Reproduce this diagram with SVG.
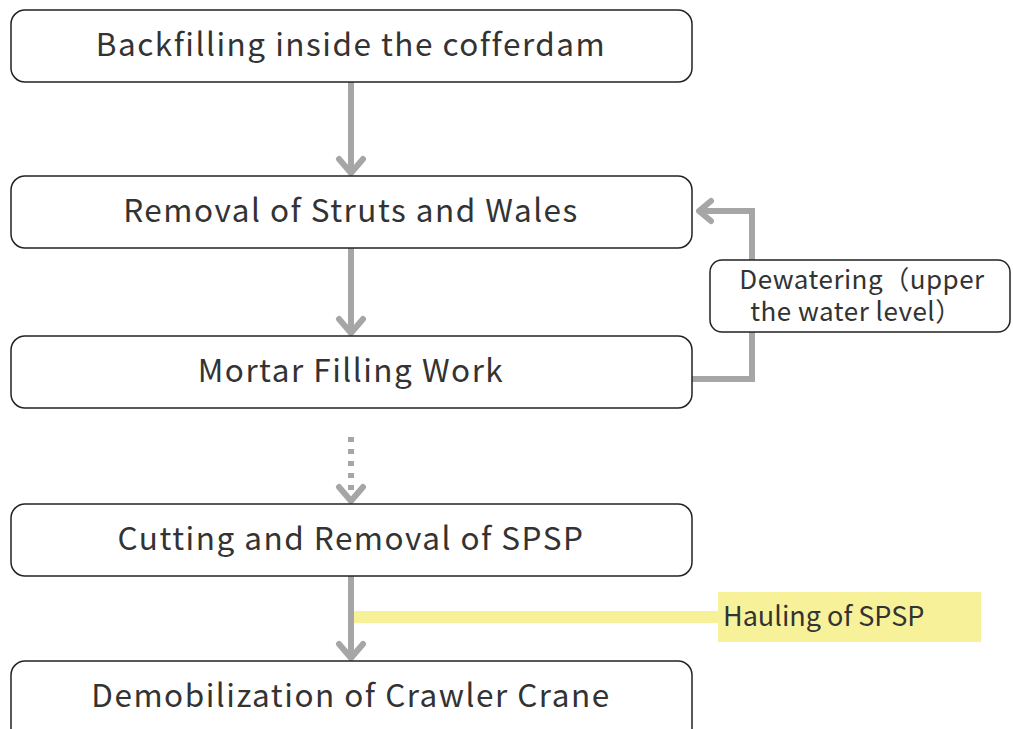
<svg xmlns="http://www.w3.org/2000/svg" width="1013" height="729" viewBox="0 0 1013 729">
<style>
.box{fill:#fff;stroke:#222;stroke-width:1.5}
.t{font-family:"Noto Sans CJK JP","Noto Sans",sans-serif;fill:#333;text-anchor:middle}
.big{font-size:31.5px;letter-spacing:1.5px}
.mid{font-size:26px;letter-spacing:0.5px}
.conn{fill:none;stroke:#a6a6a6;stroke-width:6}
.head{fill:none;stroke:#a6a6a6;stroke-width:6;stroke-linecap:round;stroke-linejoin:round}
</style>
<rect width="1013" height="729" fill="#fff"/>
<g id="connectors">
<line class="conn" x1="351" y1="82" x2="351" y2="174"/>
<polyline class="head" points="339,159 351,173 363,159"/>
<line class="conn" x1="351" y1="248" x2="351" y2="334"/>
<polyline class="head" points="339,319 351,333 363,319"/>
<line class="conn" x1="351" y1="437" x2="351" y2="502" stroke-dasharray="5,7"/>
<polyline class="head" points="339,487 351,501 363,487"/>
<polyline class="conn" points="692,379 752,379 752,211 699,211"/>
<polyline class="head" points="711,201 699,211 711,221"/>
<line class="conn" x1="351" y1="576" x2="351" y2="659"/>
<polyline class="head" points="339,644 351,658 363,644"/>
<line x1="354" y1="617" x2="720" y2="617" stroke="#f7f29a" stroke-width="12"/>
</g>
<g id="n1">
<rect class="box" x="11" y="10" width="681" height="72" rx="14"/>
<text class="t big" x="351" y="56">Backfilling inside the cofferdam</text>
</g>
<g id="n2">
<rect class="box" x="11" y="176" width="681" height="72" rx="14"/>
<text class="t big" x="351" y="222">Removal of Struts and Wales</text>
</g>
<g id="n3">
<rect class="box" x="11" y="336" width="681" height="72" rx="14"/>
<text class="t big" x="351" y="382">Mortar Filling Work</text>
</g>
<g id="n4">
<rect class="box" x="11" y="504" width="681" height="72" rx="14"/>
<text class="t big" x="351" y="550">Cutting and Removal of SPSP</text>
</g>
<g id="n5">
<rect class="box" x="11" y="661" width="681" height="90" rx="14"/>
<text class="t big" x="351" y="707">Demobilization of Crawler Crane</text>
</g>
<g id="dewatering">
<rect class="box" x="710" y="260" width="300" height="72" rx="12"/>
<text class="t mid" x="862" y="289">Dewatering（upper</text>
<text class="t mid" x="856" y="321">the water level）</text>
</g>
<g id="hauling">
<rect x="718" y="592" width="263" height="50" fill="#f7f29a"/>
<text x="723" y="626" font-family="Noto Sans CJK JP,Noto Sans,sans-serif" font-size="27" fill="#333">Hauling of SPSP</text>
</g>
</svg>
